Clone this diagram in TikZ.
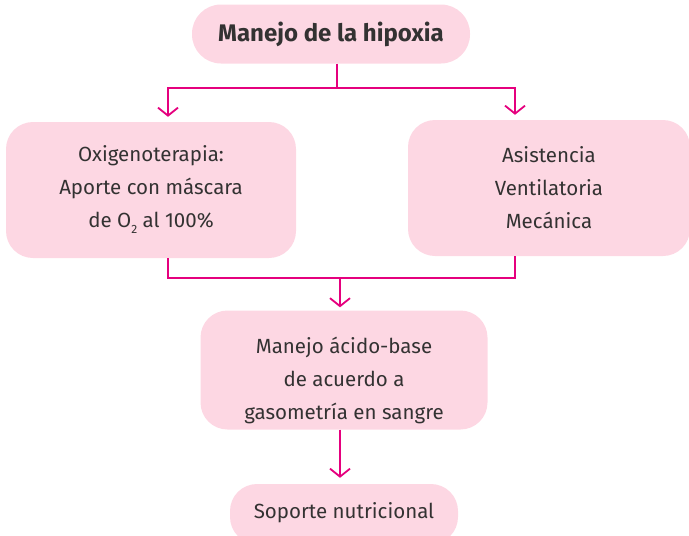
\documentclass[tikz,border=0pt]{standalone}
\usepackage{fontspec}
\setmainfont{Fira Sans}
\usepackage{tikz}
\usetikzlibrary{arrows.meta}

\definecolor{rosa}{HTML}{FDD7E3}
\definecolor{magenta}{HTML}{E5007E}
\definecolor{texto}{HTML}{333232}

\newcommand{\subdos}{\raisebox{-6pt}{\fontsize{12}{12}\selectfont 2}}

\tikzset{
	caja/.style={fill=rosa,rounded corners=27pt,align=center,text=texto,
		font=\fontsize{20.5}{33}\selectfont,inner sep=0pt},
	flujo/.style={draw=magenta,line width=1.8pt},
}

\begin{document}
\begin{tikzpicture}[x=1pt,y=-1pt,>/.tip={Straight Barb[length=8pt,width=20pt,line width=1.8pt]}]
	\useasboundingbox (0,0) rectangle (689,536);

	\draw (331,34) node (hipoxia) [caja,minimum width=278pt,minimum height=59pt,rounded corners=29pt,font=\fontsize{24}{28}\selectfont\bfseries] {Manejo de la hipoxia};
	\draw (151,190) node (oxigeno) [caja,minimum width=290pt,minimum height=136pt] {Oxigenoterapia:\\Aporte con máscara\\de O\subdos{} al 100\%};
	\draw (549,188) node (ventila) [caja,minimum width=282pt,minimum height=136pt] {Asistencia\\Ventilatoria\\Mecánica};
	\draw (344,370) node (acido) [caja,minimum width=287pt,minimum height=119pt] {\rule{0pt}{37pt}Manejo ácido-base\\de acuerdo a\\gasometría en sangre};
	\draw (344,514) node (soporte) [caja,minimum width=228pt,minimum height=60pt] {\raisebox{8pt}{Soporte nutricional}};

	\coordinate (arriba) at (337,88);
	\coordinate (izq) at (168,88);
	\coordinate (der) at (515,88);
	\coordinate (abajo) at (340,278);

	\draw[flujo] (arriba |- hipoxia.south) -- (arriba);
	\draw[flujo,->] (arriba) -- (izq) -- ([yshift=5pt]izq |- oxigeno.north);
	\draw[flujo,->] (arriba) -- (der) -- ([yshift=5pt]der |- ventila.north);

	\draw[flujo] (izq |- oxigeno.south) |- (abajo) -| (der |- ventila.south);
	\draw[flujo,->] (abajo) -- ([yshift=3pt]abajo |- acido.north);
	\draw[flujo,->] (abajo |- acido.south) -- ([yshift=6pt]abajo |- soporte.north);
\end{tikzpicture}
\end{document}
